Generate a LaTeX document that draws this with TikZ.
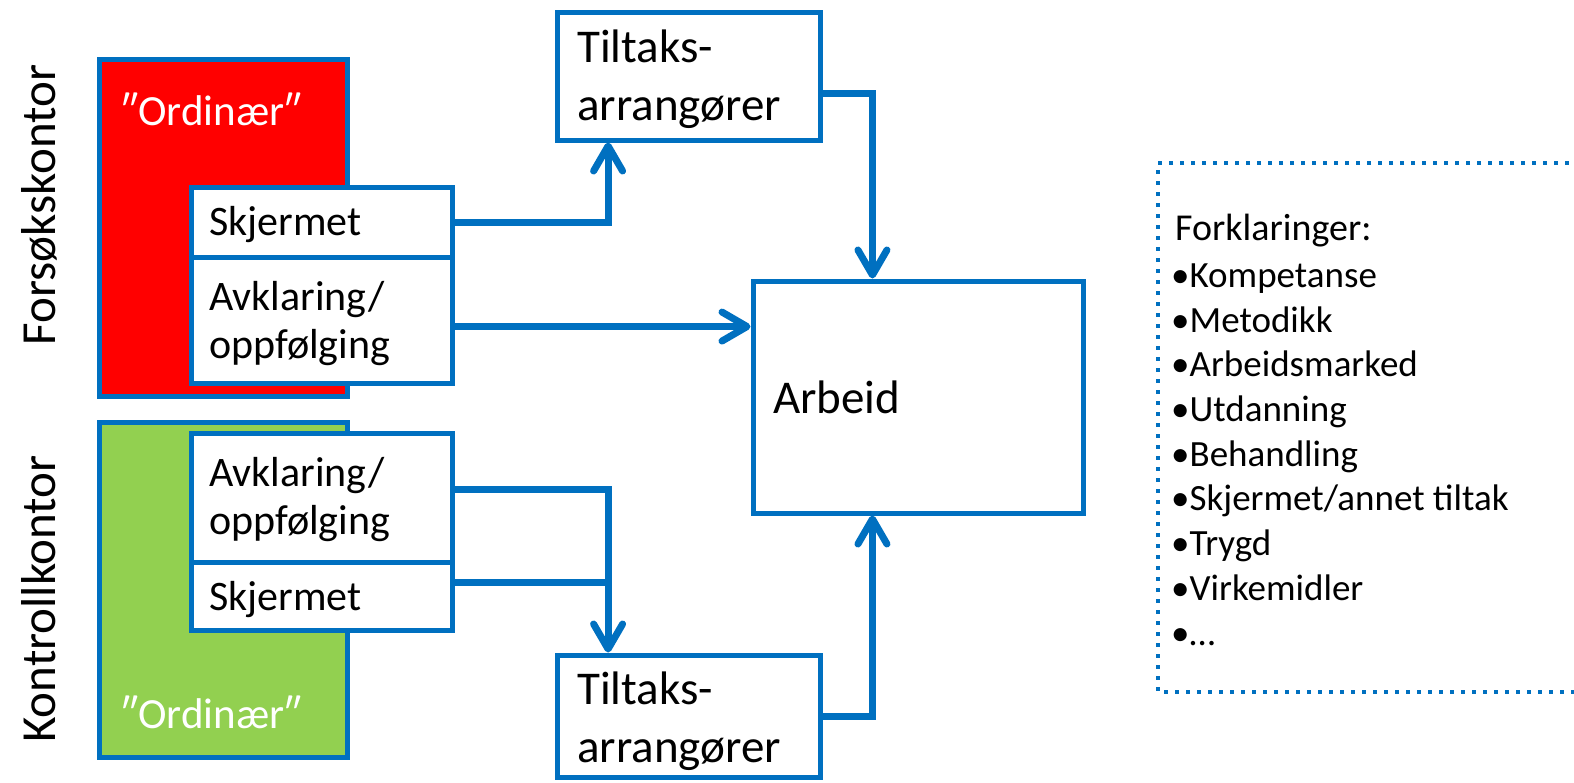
\documentclass[tikz,border=0pt]{standalone}
\usepackage{fontspec}
\setmainfont{Carlito}
\usetikzlibrary{arrows.meta,calc}
\definecolor{nblue}{HTML}{0070C0}
\definecolor{ngreen}{HTML}{92D050}
\definecolor{nred}{HTML}{FF0000}
\begin{document}
\begin{tikzpicture}[x=1pt,y=-1pt,
  box/.style={draw=nblue,line width=5pt,inner sep=0pt,fill=white},
  conn/.style={draw=nblue,line width=7pt,-{Straight Barb[length=25pt,width=29pt,round]}},
  connline/.style={draw=nblue,line width=7pt},
  txt/.style={inner sep=0pt,anchor=base west,align=left,font=\fontsize{42}{48}\selectfont},
  bigtxt/.style={inner sep=0pt,anchor=base west,align=left,font=\fontsize{47}{58}\selectfont},
  ordtxt/.style={inner sep=0pt,anchor=base west,text=white,font=\fontsize{43}{50}\selectfont},
  sidetxt/.style={inner sep=0pt,anchor=base,rotate=90,font=\fontsize{49}{58}\selectfont},
  legtxt/.style={inner sep=0pt,anchor=base west,align=left,font=\fontsize{37}{44.7}\selectfont}
]
\useasboundingbox (0,0) rectangle (1574,782);
% office boxes
\node[box,fill=nred,minimum width=248pt,minimum height=337pt] (red) at (223,227.5) {};
\node[box,fill=ngreen,minimum width=248pt,minimum height=335pt] (green) at (223,589.5) {};
\node[box,minimum width=261pt,minimum height=70pt] (sk1) at (321.5,222) {};
\node[box,minimum width=261pt,minimum height=126pt] (av1) at (321.5,320) {};
\node[box,minimum width=261pt,minimum height=129pt] (av2) at (321.5,497.5) {};
\node[box,minimum width=261pt,minimum height=68pt] (sk2) at (321.5,596) {};
\node[box,minimum width=263pt,minimum height=128pt] (t1) at (688.5,76) {};
\node[box,minimum width=263pt,minimum height=122pt] (t2) at (688.5,716) {};
\node[box,minimum width=330pt,minimum height=232pt] (arb) at (918,397) {};
% texts (multi-line nodes: base = baseline of the last line)
\node[ordtxt] (ord1) at (121,125) {″Ordinær″};
\node[ordtxt] (ord2) at (121,728) {″Ordinær″};
\node[txt] (tsk1) at (209,235) {Skjermet};
\node[txt] (tav1) at (209,358) {Avklaring/\\oppfølging};
\node[txt] (tav2) at (209,534) {Avklaring/\\oppfølging};
\node[txt] (tsk2) at (209,610) {Skjermet};
\node[bigtxt] (tt1) at (577,120) {Tiltaks-\\arrangører};
\node[bigtxt] (tt2) at (577,762) {Tiltaks-\\arrangører};
\node[bigtxt] (tarb) at (773,413) {Arbeid};
\node[sidetxt] (forsok) at (55,205) {Forsøkskontor};
\node[sidetxt] (kontroll) at (55,599) {Kontrollkontor};
% connectors
\coordinate (t1s) at ($(t1.south west)!0.2!(t1.south east)$);
\coordinate (t1e) at ($(t1.north east)!0.63!(t1.south east)$);
\coordinate (arbn) at ($(arb.north west)!0.364!(arb.north east)$);
\coordinate (arbs) at ($(arb.south west)!0.364!(arb.south east)$);
\coordinate (av1e) at ($(av1.north east)!0.55!(av1.south east)$);
\coordinate (av2e) at ($(av2.north east)!0.44!(av2.south east)$);
\coordinate (sk2e) at ($(sk2.north east)!0.32!(sk2.south east)$);
\coordinate (t2n) at ($(t2.north west)!0.2!(t2.north east)$);
\draw[conn] (sk1.east) -| (t1s);
\draw[conn] (t1e) -| (arbn);
\draw[conn] (av1e) -- (av1e -| arb.west);
\draw[connline] (sk2e) -- (sk2e -| t2n);
\draw[conn] (av2e) -| (t2n);
\draw[conn] (t2.east) -| (arbs);
% legend
\coordinate (lgtr) at (1580,163);
\coordinate (lgtl) at (1158,163);
\coordinate (lgbl) at (1158,692);
\coordinate (lgbr) at (1580,692);
\draw[nblue,line width=4pt,dash pattern=on 4pt off 7pt] (lgtr) -- (lgtl) -- (lgbl) -- (lgbr);
\node[inner sep=0pt,anchor=base west,font=\fontsize{38}{44}\selectfont] (lhead) at (1175,240) {Forklaringer:};
\node[legtxt] (litems) at (1171,645) {\textbullet Kompetanse\\\textbullet Metodikk\\\textbullet Arbeidsmarked\\\textbullet Utdanning\\\textbullet Behandling\\\textbullet Skjermet/annet tiltak\\\textbullet Trygd\\\textbullet Virkemidler\\\textbullet …};
\end{tikzpicture}
\end{document}
